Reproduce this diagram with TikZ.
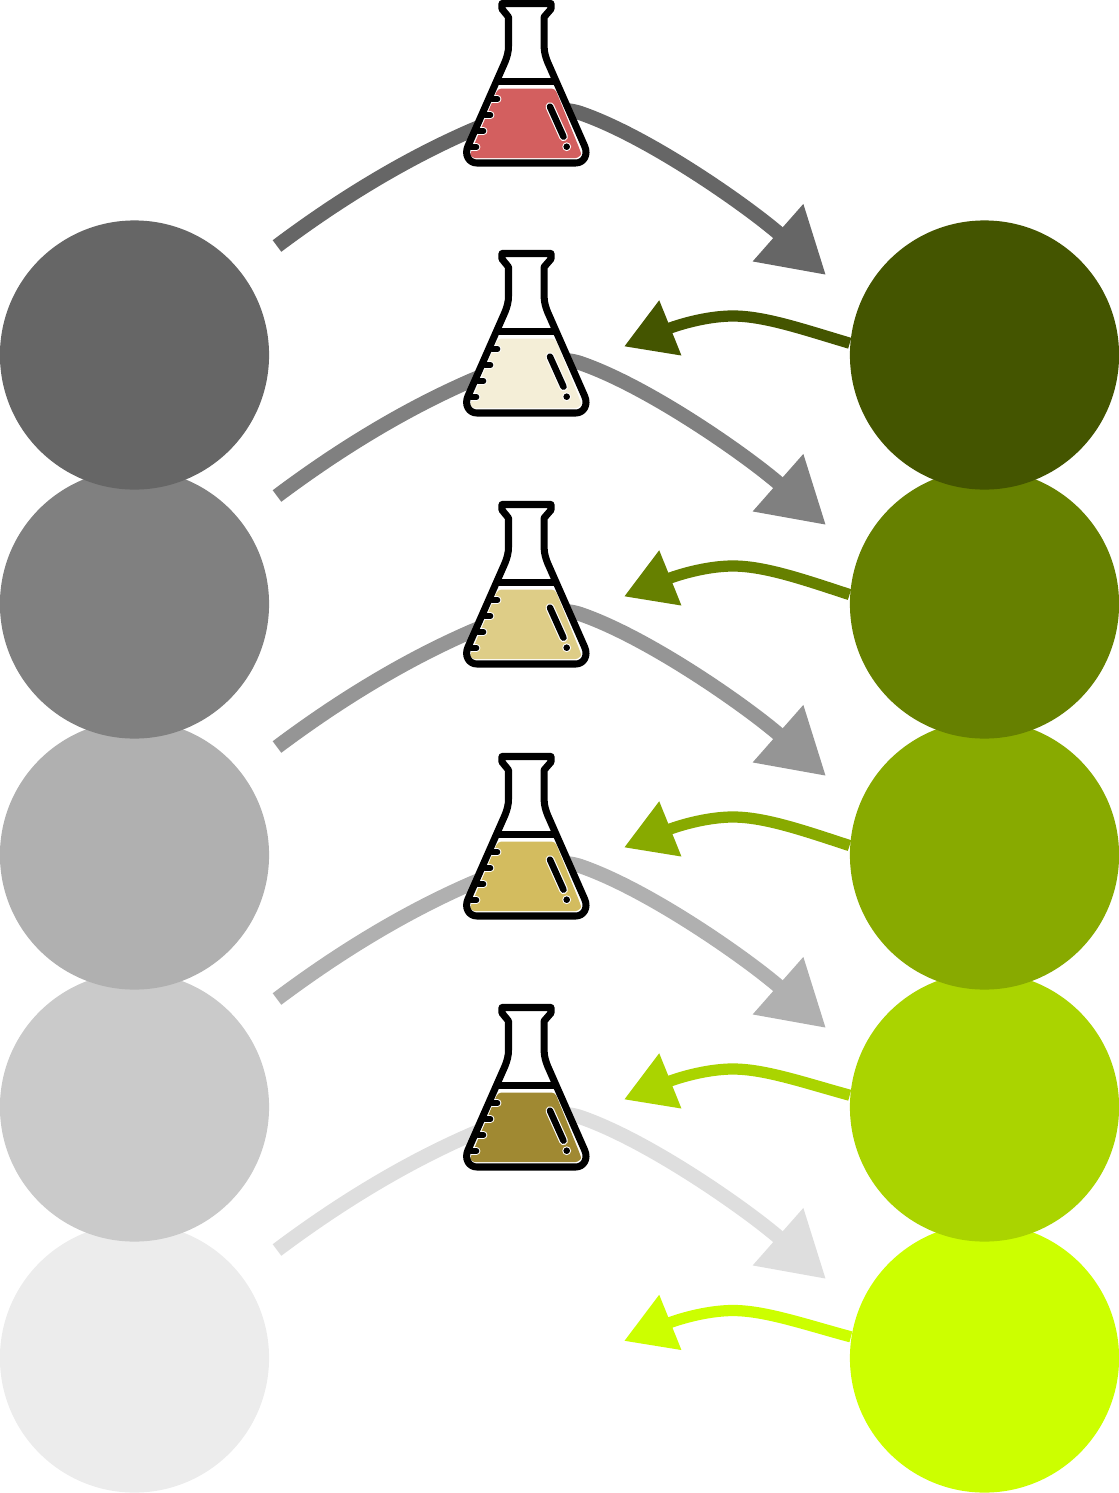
\documentclass[tikz,border=0pt]{standalone}
\usepackage{tikz}
\usetikzlibrary{arrows.meta}
\definecolor{liqa}{HTML}{D35F5F}
\definecolor{liqb}{HTML}{F4EED7}
\definecolor{liqc}{HTML}{DECD87}
\definecolor{liqd}{HTML}{D3BC5F}
\definecolor{liqe}{HTML}{A08932}
\tikzstyle{every path}=[line join=round]
\tikzstyle{ball}=[circle,minimum size=2.69cm,inner sep=0pt]
\tikzstyle{feedline}=[line width=4.1pt,-{Triangle[length=18.2pt,width=20.6pt]}]
\tikzstyle{backline}=[line width=3.2pt,-{Triangle[length=14.2pt,width=16pt]}]
\tikzset{pics/flask/.style={code={
  % liquid, then the marks on it, then the glass
  \fill[white] (52,3.5)--(52,9)--(58.5,17)--(58.5,46) .. controls (58.5,52) and (57,57) .. (55,62)
    --(18,146) .. controls (14,155) and (19,163) .. (27,163)--(125.6,163)
    .. controls (133.6,163) and (138.6,155) .. (134.6,146)--(97.6,62)
    .. controls (95.6,57) and (94.1,52) .. (94.1,46)--(94.1,17)--(101,9)--(101,3.5)--cycle;
  \fill[#1,rounded corners=1pt] (48,88.5)--(105,88.5)--(130,150) .. controls (131.5,155) and (128,158) .. (122,158)
    --(28,158) .. controls (23,158) and (20,155) .. (21,152)--cycle;
  \foreach \tx/\ty in {42/99,35/115,28/131,21/147}
    \draw[white,line width=2.2pt,line cap=round] (\tx,\ty)--++(5.5,0);
  \foreach \tx/\ty in {42/99,35/115,28/131,21/147}
    \draw[black,line width=1.6pt,line cap=round] (\tx,\ty)--++(5.5,0);
  \draw[white,line width=2.5pt,line cap=round] (100,106.7)--(113.5,136.7);
  \draw[black,line width=1.85pt,line cap=round] (100,106.7)--(113.5,136.7);
  \fill[white] (116.7,146.7) circle (4.4);
  \fill[black] (116.7,146.7) circle (3.3);
  \draw[black,line width=1.8pt] (47,81.5)--(106,81.5);
  \draw[black,line width=2pt] (52,3.5)--(52,9)--(58.5,17)--(58.5,46) .. controls (58.5,52) and (57,57) .. (55,62)
    --(18,146) .. controls (14,155) and (19,163) .. (27,163)--(125.6,163)
    .. controls (133.6,163) and (138.6,155) .. (134.6,146)--(97.6,62)
    .. controls (95.6,57) and (94.1,52) .. (94.1,46)--(94.1,17)--(101,9)--(101,3.5)--cycle;
}}}
\begin{document}
\begin{tikzpicture}[x=0.01cm,y=-0.01cm]
  \useasboundingbox (0,0) rectangle (1119,1493);
  % the upper balls lie over the lower ones
  \foreach \i/\y/\lc/\rc in {5/1358/ECECEC/CCFF00,4/1107/CACACA/AAD400,3/855/B0B0B0/88AA00,2/604/808080/668000,1/355/666666/445500}{
    \definecolor{lball}{HTML}{\lc}
    \definecolor{rball}{HTML}{\rc}
    \node[ball,fill=lball] (lb\i) at (134.5,\y) {};
    \node[ball,fill=rball] (rb\i) at (984.5,\y) {};
  }
  % feed arrows and the flasks over them
  \foreach \i/\dy/\ac/\liq in {1/0/666666/liqa,2/250/808080/liqb,3/501/959595/liqc,4/753/B0B0B0/liqd,5/1004/DEDEDE/liqe}{
    \definecolor{feed}{HTML}{\ac}
    \coordinate (fs\i) at (277,246+\dy);
    \coordinate (fm\i) at (470,131+\dy);
    \coordinate (fn\i) at (580,113+\dy);
    \coordinate (fe\i) at (826,275+\dy);
    \draw[feedline,feed] (fs\i) .. controls (341,198+\dy) and (406,159+\dy) .. (fm\i)
      .. controls (500,118+\dy) and (550,103+\dy) .. (fn\i)
      .. controls (650,137+\dy) and (750,208+\dy) .. (fe\i);
    \pic[shift={(450,\dy)}] (fl\i) {flask=\liq};
  }
  % back arrows
  \foreach \i/\dy/\ang/\rc in {1/0/175.5/445500,2/250/176/668000,3/501/176/88AA00,4/753/175.7/AAD400,5/994.5/171.9/CCFF00}{
    \definecolor{back}{HTML}{\rc}
    \coordinate (bm\i) at (733,316+\dy);
    \coordinate (be\i) at (624,346.5+\dy);
    \draw[backline,back] (rb\i.\ang) .. controls (805,330+\dy) and (765,316+\dy) .. (bm\i)
      .. controls (705,316+\dy) and (675,326+\dy) .. (be\i);
  }
\end{tikzpicture}
\end{document}
